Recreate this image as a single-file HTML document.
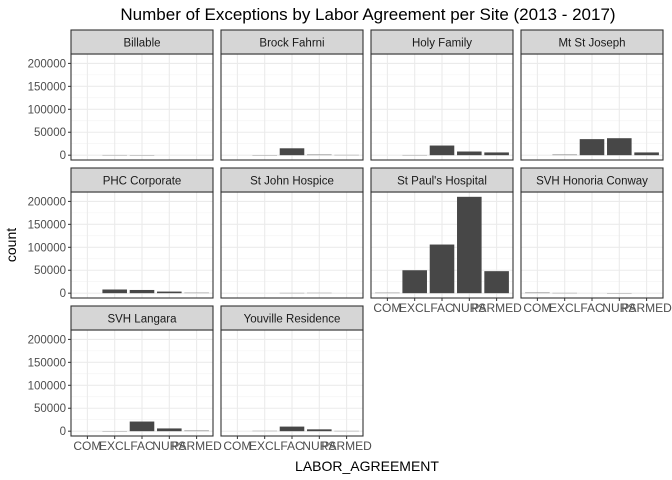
<!DOCTYPE html>
<html><head><meta charset="utf-8"><style>body{margin:0;background:#fff}svg{display:block;font-family:"Liberation Sans",Arial,sans-serif}</style></head>
<body>
<svg id="c" width="672" height="480" viewBox="0 0 672 480">
<text x="368" y="20" font-size="17" text-anchor="middle" fill="#000">Number of Exceptions by Labor Agreement per Site (2013 - 2017)</text>
<text transform="translate(16,245) rotate(-90)" font-size="14" text-anchor="middle">count</text>
<text x="367" y="471" font-size="14" text-anchor="middle">LABOR_AGREEMENT</text>
</svg>
<script>
const categories=["COM","EXCL","FAC","NURS","PARMED"];
const sites=["Billable","Brock Fahrni","Holy Family","Mt St Joseph","PHC Corporate","St John Hospice","St Paul's Hospital","SVH Honoria Conway","SVH Langara","Youville Residence"];
const billable=[0,500,300,0,0];
const brockFahrni=[0,200,15000,2000,800];
const holyFamily=[0,500,21000,8000,6000];
const mtStJoseph=[0,2000,35000,37000,6000];
const phcCorporate=[0,8000,7000,3500,1500];
const stJohnHospice=[0,0,800,1000,0];
const stPauls=[1500,50000,106000,210000,48000];
const svhHonoria=[2000,800,0,300,0];
const svhLangara=[0,300,21000,6000,2000];
const youville=[0,1000,10000,4000,800];
const yTicks=[0,50000,100000,150000,200000];
const yTickLabels=["0","50000","100000","150000","200000"];
const seriesList=[billable,brockFahrni,holyFamily,mtStJoseph,phcCorporate,stJohnHospice,stPauls,svhHonoria,svhLangara,youville];
const svg=document.getElementById('c');const NS='http://www.w3.org/2000/svg';
function mk(t,a,p){const e=document.createElementNS(NS,t);for(const k in a)e.setAttribute(k,a[k]);(p||svg).appendChild(e);return e;}
const colX=[71,221,371,521],rowY=[30,168,306],PW=142,SH=24,PH=106;
const yMin=-10500,yMax=220500;
function ys(v,top){return top+PH-(v-yMin)/(yMax-yMin)*PH;}
function xs(i,left){return left+(i+1-0.4)/5.2*PW;}
const bw=0.9/5.2*PW;
sites.forEach((s,k)=>{
 const r=Math.floor(k/4),c=k%4,L=colX[c],T=rowY[r]+SH;
 const g=mk('g',{});
 
 
 mk('rect',{x:L,y:T,width:PW,height:PH,fill:'#fff'},g);
 for(let j=0;j<yTicks.length-1;j++){const m=(yTicks[j]+yTicks[j+1])/2;mk('line',{x1:L,x2:L+PW,y1:ys(m,T),y2:ys(m,T),stroke:'#f2f2f2','stroke-width':0.6},g);}
 yTicks.forEach(v=>mk('line',{x1:L,x2:L+PW,y1:ys(v,T),y2:ys(v,T),stroke:'#ebebeb','stroke-width':1.1},g));
 categories.forEach((cat,i)=>mk('line',{x1:xs(i,L),x2:xs(i,L),y1:T,y2:T+PH,stroke:'#ebebeb','stroke-width':1.1},g));
 const vals=seriesList[k];
 vals.forEach((v,i)=>{if(v<=0)return;const y0=ys(0,T),y1=ys(v,T);const h=y0-y1;
  const b=mk('rect',{x:xs(i,L)-bw/2,y:y1,width:bw,height:Math.max(h,0.5),fill:'#474747','fill-opacity':h<1?0.45:1},g);
  
  });
 mk('rect',{x:L,y:T,width:PW,height:PH,fill:'none',stroke:'#333','stroke-width':1.1},g);
 const st=mk('rect',{x:L,y:rowY[r],width:PW,height:SH,fill:'#d6d6d6',stroke:'#333','stroke-width':1.1},g);
 
 
 const tt=mk('text',{x:L+PW/2,y:rowY[r]+16.5,'font-size':11.5,'text-anchor':'middle',fill:'#1a1a1a'},g);tt.textContent=s;
 
 
 if(c===0){yTicks.forEach((v,j)=>{mk('line',{x1:L-3,x2:L,y1:ys(v,T),y2:ys(v,T),stroke:'#333'},g);
  const t=mk('text',{x:L-5,y:ys(v,T)+4,'font-size':11.5,'text-anchor':'end',fill:'#4d4d4d'},g);t.textContent=yTickLabels[j];
  
  });}
 const bottom=(r===2)||(r===1&&c>=2);
 if(bottom){categories.forEach((cat,i)=>{mk('line',{x1:xs(i,L),x2:xs(i,L),y1:T+PH,y2:T+PH+3,stroke:'#333'},g);
  const t=mk('text',{x:xs(i,L),y:T+PH+14,'font-size':12,'text-anchor':'middle',fill:'#4d4d4d'},g);t.textContent=cat;
  
  });}
});
</script>
</body></html>
